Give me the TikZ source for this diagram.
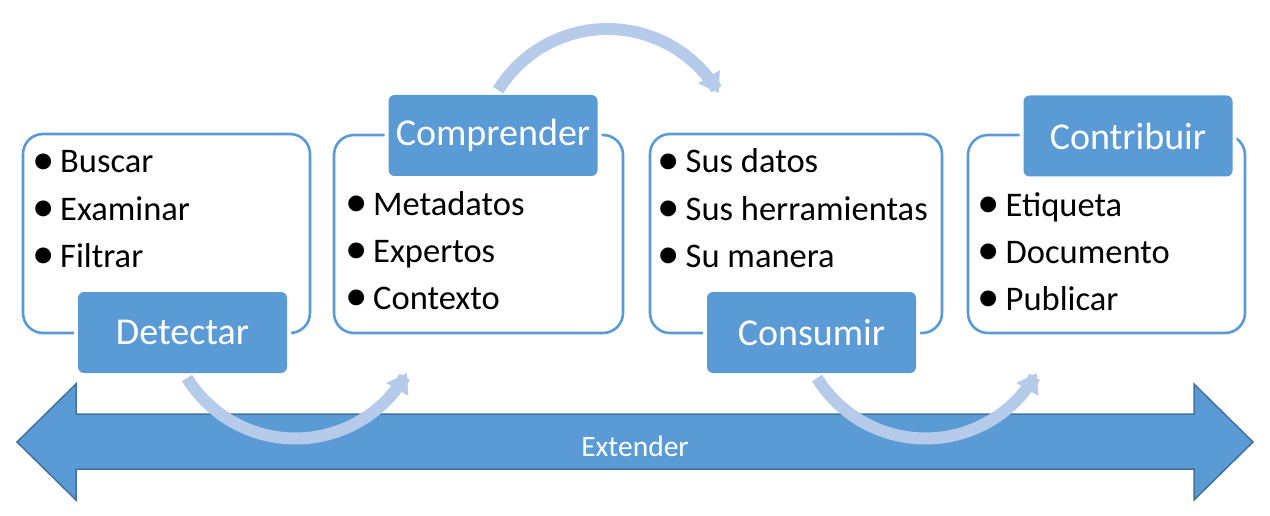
\documentclass[tikz,border=0pt]{standalone}
\usepackage{fontspec}
\setmainfont{Carlito}
\usetikzlibrary{arrows.meta}
\definecolor{accent}{HTML}{5B9BD5}
\definecolor{accentdark}{HTML}{41719C}
\definecolor{curvecol}{RGB}{181,203,233}
\tikzset{
  outerbox/.style={draw=accent, line width=2.6pt, rounded corners=20pt, fill=white, inner sep=0pt},
  labelbox/.style={fill=accent, rounded corners=6pt, minimum width=209pt, minimum height=81pt, inner sep=0pt,
    preaction={draw=white, line width=8pt, rounded corners=6pt},
    text=white, font=\fontsize{38}{42}\selectfont},
  itemtext/.style={anchor=base west, inner sep=0pt, font=\fontsize{34.5}{40}\selectfont},
  curvearrow/.style={draw=curvecol, line width=12pt, -{Triangle[width=24pt, length=19pt]}},
  bigarrow/.style={fill=accent, draw=accentdark, line width=1.5pt, line join=miter},
}
\newcommand{\bul}[1]{\makebox[22.5pt][l]{\makebox[11pt][c]{\raisebox{-1.2pt}{\scalebox{1.3}{•}}}}#1}
\begin{document}
\begin{tikzpicture}[x=1pt, y=-1pt]
\useasboundingbox (0,0) rectangle (1270,516);

% big double arrow
\draw[bigarrow] (17,442) -- (76,384) -- (76,414) -- (1194,414) -- (1194,384) -- (1253,442)
  -- (1194,500) -- (1194,469) -- (76,469) -- (76,500) -- cycle;
\node[text=white, font=\fontsize{29.5}{32}\selectfont, inner sep=0pt, anchor=base] (ext) at (635,456.5) {Extender};

% outer boxes
\node[outerbox, minimum width=287pt, minimum height=199pt] (b1) at (166.5,233.5) {};
\node[outerbox, minimum width=289pt, minimum height=198pt] (b2) at (478.5,234) {};
\node[outerbox, minimum width=292pt, minimum height=199pt] (b3) at (796,233.5) {};
\node[outerbox, minimum width=277pt, minimum height=198pt] (b4) at (1106.5,234) {};

% items
\node[itemtext] (i11) at (37.5,173) {\bul{Buscar}};
\node[itemtext] (i12) at (37.5,220) {\bul{Examinar}};
\node[itemtext] (i13) at (37.5,267) {\bul{Filtrar}};

\node[itemtext] (i21) at (350.5,215.5) {\bul{Metadatos}};
\node[itemtext] (i22) at (350.5,262.5) {\bul{Expertos}};
\node[itemtext] (i23) at (350.5,309.5) {\bul{Contexto}};

\node[itemtext] (i31) at (663,173) {\bul{Sus datos}};
\node[itemtext] (i32) at (663,220) {\bul{Sus herramientas}};
\node[itemtext] (i33) at (663,267) {\bul{Su manera}};

\node[itemtext] (i41) at (983,216) {\bul{Etiqueta}};
\node[itemtext] (i42) at (983,263) {\bul{Documento}};
\node[itemtext] (i43) at (983,310) {\bul{Publicar}};

% labels
\node[labelbox] (detectar) at (182.5,332.5) {Detectar};
\node[labelbox] (comprender) at (493,135.5) {Comprender};
\node[labelbox] (consumir) at (811.5,332.5) {Consumir};
\node[labelbox] (contribuir) at (1128,136) {Contribuir};

% curved arrows
\coordinate (a1s) at ({295.5+127.5*cos(148.3)},{311+127.5*sin(148.3)});
\coordinate (a1e) at ({295.5+127.5*cos(29.1)},{311+127.5*sin(29.1)});
\draw[curvearrow] plot[domain=148.3:29.1, samples=60, variable=\t] ({295.5+127.5*cos(\t)},{311+127.5*sin(\t)});

\coordinate (a2s) at ({607.6+128.5*cos(211.6)},{157.5+128.5*sin(211.6)});
\coordinate (a2e) at ({607.6+128.5*cos(329.9)},{157.5+128.5*sin(329.9)});
\draw[curvearrow] plot[domain=211.6:329.9, samples=60, variable=\t] ({607.6+128.5*cos(\t)},{157.5+128.5*sin(\t)});

\coordinate (a3s) at ({925.5+127.5*cos(148.3)},{311+127.5*sin(148.3)});
\coordinate (a3e) at ({925.5+127.5*cos(29.1)},{311+127.5*sin(29.1)});
\draw[curvearrow] plot[domain=148.3:29.1, samples=60, variable=\t] ({925.5+127.5*cos(\t)},{311+127.5*sin(\t)});
\end{tikzpicture}
\end{document}
